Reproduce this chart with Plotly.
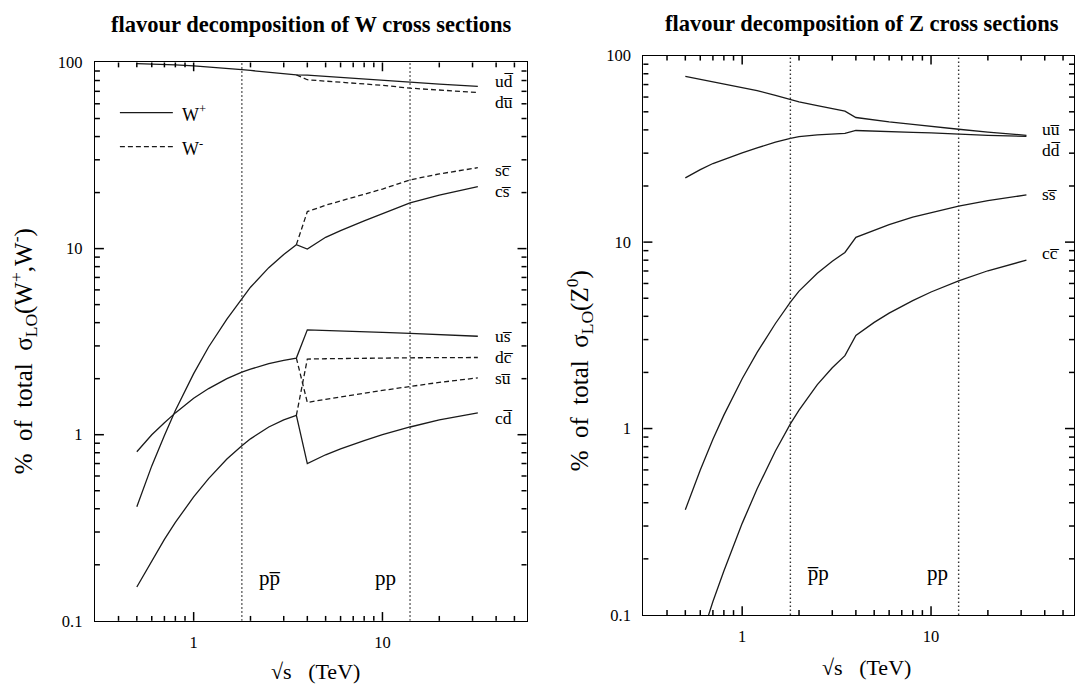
import math
import plotly.graph_objects as go

# ---------------- data ----------------
# W panel: below 3.5 TeV (p-pbar) W+ and W- decompositions coincide
x_ppbar = [0.5, 0.6, 0.7, 0.8, 1.0, 1.2, 1.5, 1.8, 2.0, 2.5, 3.0, 3.5]
x_pp = [4, 5, 6, 8, 10, 14, 20, 32]

ppbar_ud = [98.6, 98.1, 97.6, 97.0, 95.8, 94.7, 93.1, 91.6, 90.6, 88.6, 87.0, 85.7]
ppbar_us = [0.81, 1.0, 1.16, 1.31, 1.57, 1.77, 2.0, 2.17, 2.25, 2.41, 2.51, 2.58]
ppbar_cs = [0.41, 0.68, 0.99, 1.35, 2.13, 2.96, 4.18, 5.4, 6.2, 7.9, 9.3, 10.5]
ppbar_cd = [0.152, 0.211, 0.274, 0.338, 0.463, 0.581, 0.74, 0.873, 0.95, 1.10, 1.20, 1.27]

# p-p region, W+
wp_ud = [85.5, 84.3, 83.2, 81.7, 80.4, 78.5, 76.5, 74.5]
wp_us = [3.66, 3.64, 3.62, 3.58, 3.55, 3.5, 3.45, 3.38]
wp_cs = [9.95, 11.5, 12.5, 14.1, 15.4, 17.6, 19.4, 21.5]
wp_cd = [0.70, 0.78, 0.84, 0.93, 1.0, 1.1, 1.2, 1.31]
# p-p region, W-
wm_du = [80.8, 79.4, 78.3, 76.8, 75.4, 72.8, 70.9, 69.0]
wm_su = [1.49, 1.55, 1.6, 1.67, 1.73, 1.82, 1.91, 2.02]
wm_sc = [15.8, 17.1, 18.0, 19.6, 20.9, 23.4, 25.2, 27.2]
wm_dc = [2.55, 2.56, 2.57, 2.58, 2.58, 2.59, 2.6, 2.6]

# Z panel
x_z = [0.5, 0.6, 0.7, 0.8, 1.0, 1.2, 1.5, 1.8, 2.0, 2.5, 3.0, 3.5, 4, 5, 6, 8, 10, 14, 20, 32]
z_uu = [77.5, 74.8, 72.6, 70.9, 67.7, 65.0, 61.2, 58.2, 56.5, 53.9, 52.0, 50.4,
        46.6, 45.2, 44.1, 42.8, 41.7, 40.3, 38.9, 37.4]
z_dd = [22.1, 24.5, 26.4, 27.8, 30.1, 32.0, 34.4, 36.0, 36.8, 37.6, 38.0, 38.3,
        39.7, 39.5, 39.3, 38.8, 38.5, 37.9, 37.4, 36.9]
z_ss = [0.367, 0.6, 0.875, 1.18, 1.85, 2.56, 3.66, 4.77, 5.46, 6.8, 7.9, 8.8,
        10.6, 11.6, 12.4, 13.6, 14.4, 15.6, 16.7, 17.9]
z_cc = [0.041, 0.073, 0.118, 0.172, 0.31, 0.475, 0.758, 1.06, 1.256, 1.72, 2.12, 2.46,
        3.16, 3.71, 4.16, 4.85, 5.40, 6.19, 7.02, 8.0]

collider_energies = [1.8, 14]          # Tevatron, LHC
y_span = [0.1, 100]

ytick_vals = [0.1, 1, 10, 100]
ytick_text = ["0.1", "1", "10", "100"]
xtick_vals = [1, 10]
xtick_text = ["1", "10"]
minor_x_vals = [0.4, 0.5, 0.6, 0.7, 0.8, 0.9, 2, 3, 4, 5, 6, 7, 8, 9, 20, 30, 40, 50]
minor_y_vals = [0.2, 0.3, 0.4, 0.5, 0.6, 0.7, 0.8, 0.9, 2, 3, 4, 5, 6, 7, 8, 9,
                20, 30, 40, 50, 60, 70, 80, 90]

OL = "\u0305"  # combining overline
w_labels = ["ud" + OL, "du" + OL, "sc" + OL, "cs" + OL,
            "us" + OL, "dc" + OL, "su" + OL, "cd" + OL]
z_labels = ["uu" + OL, "dd" + OL, "ss" + OL, "cc" + OL]

# ---------------- figure ----------------
W, H = 1075, 695
SERIF = "Liberation Serif"
LINE = "#1a1a1a"


def px(x):
    return x / W


def py(y):
    return 1 - y / H


fig = go.Figure()


def add_line(x, y, dash, xa, ya):
    fig.add_trace(go.Scatter(x=x, y=y, mode="lines", xaxis=xa, yaxis=ya,
                             line=dict(color=LINE, width=1.3, dash=dash),
                             showlegend=False, hoverinfo="skip"))


# W+ (solid): p-pbar part followed by p-p part
for pb, pp in [(ppbar_ud, wp_ud), (ppbar_us, wp_us), (ppbar_cs, wp_cs), (ppbar_cd, wp_cd)]:
    add_line(x_ppbar + x_pp, pb + pp, "solid", "x", "y")
# W- (dashed): leaves the shared curve at the last p-pbar point
for pb, pp in [(ppbar_ud, wm_du), (ppbar_us, wm_su), (ppbar_cs, wm_sc), (ppbar_cd, wm_dc)]:
    add_line(x_ppbar[-1:] + x_pp, pb[-1:] + pp, "5px,3px", "x", "y")

for s in [z_uu, z_dd, z_ss, z_cc]:
    add_line(x_z, s, "solid", "x2", "y2")

# collider energies (dotted verticals)
for e in collider_energies:
    for xa, ya in [("x", "y"), ("x2", "y2")]:
        fig.add_trace(go.Scatter(x=[e, e], y=y_span, mode="lines", xaxis=xa, yaxis=ya,
                                 line=dict(color="#333", width=1.4, dash="1.5px,2.5px"),
                                 showlegend=False, hoverinfo="skip"))

# panel geometry (pixels)
panels = [
    dict(x0=95, x1=527, y0=55, y1=629, xr=[-0.523, 1.763], xa="x", ya="y"),
    dict(x0=644, x1=W, y0=48, y1=623, xr=[-0.523, 1.757], xa="x2", ya="y2"),
]
yr = [-1, 2]


def axis(domain, rng, tickvals, ticktext, anchor, standoff):
    return dict(type="log", domain=domain, range=rng, anchor=anchor,
                showline=True, linecolor="black", linewidth=1.3, mirror=True,
                ticks="", tickmode="array", tickvals=tickvals, ticktext=ticktext,
                ticklabelstandoff=standoff, showgrid=False, zeroline=False,
                tickfont=dict(family=SERIF, size=16.5, color="black"))


p1, p2 = panels
fig.update_layout(
    width=W, height=H, margin=dict(l=0, r=0, t=0, b=0),
    paper_bgcolor="white", plot_bgcolor="white", showlegend=False,
    xaxis=axis([px(p1["x0"]), px(p1["x1"])], p1["xr"], xtick_vals, xtick_text, "y", 6),
    yaxis=axis([py(p1["y1"]), py(p1["y0"])], yr, ytick_vals, ytick_text, "x", 8),
    xaxis2=axis([px(p2["x0"]), 1.0], p2["xr"], xtick_vals, xtick_text, "y2", 6),
    yaxis2=axis([py(p2["y1"]), py(p2["y0"])], yr, ytick_vals, ytick_text, "x2", 8),
)

# inward tick marks on all four sides (axis decoration, positioned in axis-domain units)
MAJ, MIN = 9, 5
for p in panels:
    wpx, hpx = p["x1"] - p["x0"], p["y1"] - p["y0"]
    xdom = p["xa"] + " domain"
    ydom = p["ya"] + " domain"
    for vals, ln in [(xtick_vals, MAJ), (minor_x_vals, MIN)]:
        for v in vals:
            f = (math.log10(v) - p["xr"][0]) / (p["xr"][1] - p["xr"][0])
            if not 0 < f < 1:
                continue
            for a, b in [(0, ln / hpx), (1 - ln / hpx, 1)]:
                fig.add_shape(type="line", xref=xdom, yref=ydom, x0=f, x1=f, y0=a, y1=b,
                              line=dict(color="black", width=1.5))
    for vals, ln in [(ytick_vals, MAJ), (minor_y_vals, MIN)]:
        for v in vals:
            f = (math.log10(v) - yr[0]) / (yr[1] - yr[0])
            if not 0 < f < 1:
                continue
            for a, b in [(0, ln / wpx), (1 - ln / wpx, 1)]:
                fig.add_shape(type="line", xref=xdom, yref=ydom, x0=a, x1=b, y0=f, y1=f,
                              line=dict(color="black", width=1.5))

ann = []


def text(x, y, t, size, xanchor="center", angle=0):
    ann.append(dict(x=px(x), y=py(y), xref="paper", yref="paper", text=t,
                    showarrow=False, xanchor=xanchor, yanchor="middle", textangle=angle,
                    font=dict(family=SERIF, size=size, color="black")))


text(311, 16, "<b>flavour decomposition of W cross sections</b>", 22.5)
text(863, 15, "<b>flavour decomposition of Z cross sections</b>", 22.5)
text(24, 352, "%  of  total  σ<sub>LO</sub>(W<sup>+</sup>,W<sup>-</sup>)", 25, angle=-90)
text(580, 372, "%  of  total  σ<sub>LO</sub>(Z<sup>0</sup>)", 25, angle=-90)
text(316, 681, "√s   (TeV)", 22)
text(867, 677, "√s   (TeV)", 22)
text(270, 585, "pp" + OL, 21)
text(386, 585, "pp", 21)
text(819, 580, "p" + OL + "p", 21)
text(938, 580, "pp", 21)

for lab, y in zip(w_labels, [74, 96, 166, 187, 336, 358, 379, 420]):
    text(493, y, lab, 17.5, xanchor="left")
for lab, y in zip(z_labels, [123, 145, 190, 251]):
    text(1041, y, lab, 17.5, xanchor="left")

# legend
text(180, 107, "W<sup>+</sup>", 18, xanchor="left")
text(180, 142, "W<sup>-</sup>", 18, xanchor="left")
fig.update_layout(annotations=ann)
fig.add_shape(type="line", xref="paper", yref="paper", x0=px(120), x1=px(173),
              y0=py(106.5), y1=py(106.5), line=dict(color=LINE, width=1.3))
fig.add_shape(type="line", xref="paper", yref="paper", x0=px(120), x1=px(173),
              y0=py(141.5), y1=py(141.5), line=dict(color=LINE, width=1.3, dash="5px,3px"))

fig.write_html("out.html")
